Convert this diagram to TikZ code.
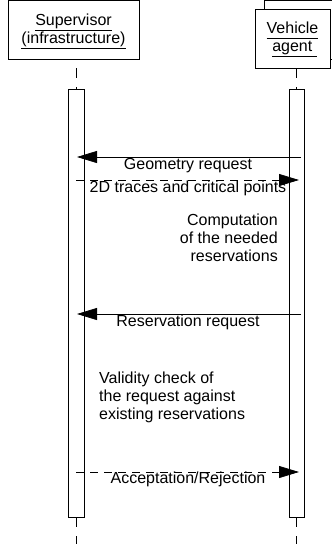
\documentclass[tikz,border=0pt]{standalone}
\usepackage{fontspec}
\setmainfont{Liberation Sans}
\usetikzlibrary{arrows.meta}
\newcommand{\ulword}[1]{\underline{\vphantom{(}#1}}
\begin{document}
\begin{tikzpicture}[x=1pt,y=-1pt,
  lbl/.style={font=\fontsize{16}{18}\selectfont, inner sep=0pt},
  objbox/.style={draw, line width=0.8pt, fill=white, inner sep=0pt, anchor=north west},
  actbox/.style={draw, line width=0.8pt, fill=white, inner sep=0pt, anchor=north west,
                 minimum height=428pt},
  life/.style={line width=0.8pt, dash pattern=on 9.5pt off 9.5pt},
  msg/.style={line width=0.8pt, -{Triangle[length=20pt,width=12pt]}},
  ret/.style={msg, dash pattern=on 8pt off 6pt}]
\fill[white] (0,0) rectangle (332,544);
\useasboundingbox (0,0) rectangle (332,544);

% object boxes
\node[objbox, minimum width=131pt, minimum height=59pt] (sup) at (8,0.4) {};
\node[objbox, minimum width=75pt, minimum height=59pt] (vehback) at (264,0.4) {};
\node[objbox, minimum width=75pt, minimum height=59pt] (veh) at (255,9) {};

\node[lbl, anchor=base] (suplbl1) at (73.5,25) {\ulword{Supervisor}};
\node[lbl, anchor=base] (suplbl2) at (73.5,43) {\ulword{(infrastructure)}};
\node[lbl, anchor=base] (vehlbl1) at (292.5,33) {\ulword{Vehicle}};
\node[lbl, anchor=base] (vehlbl2) at (294.5,51) {\ulword{agent\ }};

% lifeline coordinates
\coordinate (supL1) at (76,68);
\coordinate (supL2) at (76,89);
\coordinate (supL3) at (76,517);
\coordinate (supL4) at (76,545);
\coordinate (vehL1) at (296.5,68);
\coordinate (vehL2) at (296.5,89);
\coordinate (vehL3) at (296.5,517);
\coordinate (vehL4) at (296.5,545);

\draw[life] (supL1) -- (supL2);
\draw[life] (supL3) -- (supL4);
\draw[life] (vehL1) -- (vehL2);
\draw[life] (vehL3) -- (vehL4);

% activation boxes
\node[actbox, minimum width=16pt] (supact) at (68,89) {};
\node[actbox, minimum width=15pt] (vehact) at (289,89) {};

% message end points
\coordinate (m1a) at (301,157);
\coordinate (m1b) at (77,157);
\coordinate (m2a) at (76,180);
\coordinate (m2b) at (299,180);
\coordinate (m3a) at (301,314);
\coordinate (m3b) at (77,314);
\coordinate (m4a) at (76,472);
\coordinate (m4b) at (299,472);

\draw[msg] (m1a) -- (m1b);
\node[lbl, anchor=base] (t1) at (188,169) {Geometry request};
\draw[ret] (m2a) -- (m2b);
\node[lbl, anchor=base] (t2) at (188,192) {2D traces and critical points};
\node[lbl, anchor=north east, align=right] (t3) at (278,213.5)
  {Computation\\of the needed\\reservations};
\draw[msg] (m3a) -- (m3b);
\node[lbl, anchor=base] (t4) at (188,326.5) {Reservation request};
\node[lbl, anchor=north west, align=left] (t5) at (99,371.7)
  {Validity check of\\the request against\\existing reservations};
\draw[ret] (m4a) -- (m4b);
\node[lbl, anchor=base] (t6) at (188,483) {Acceptation/Rejection};
\end{tikzpicture}
\end{document}
